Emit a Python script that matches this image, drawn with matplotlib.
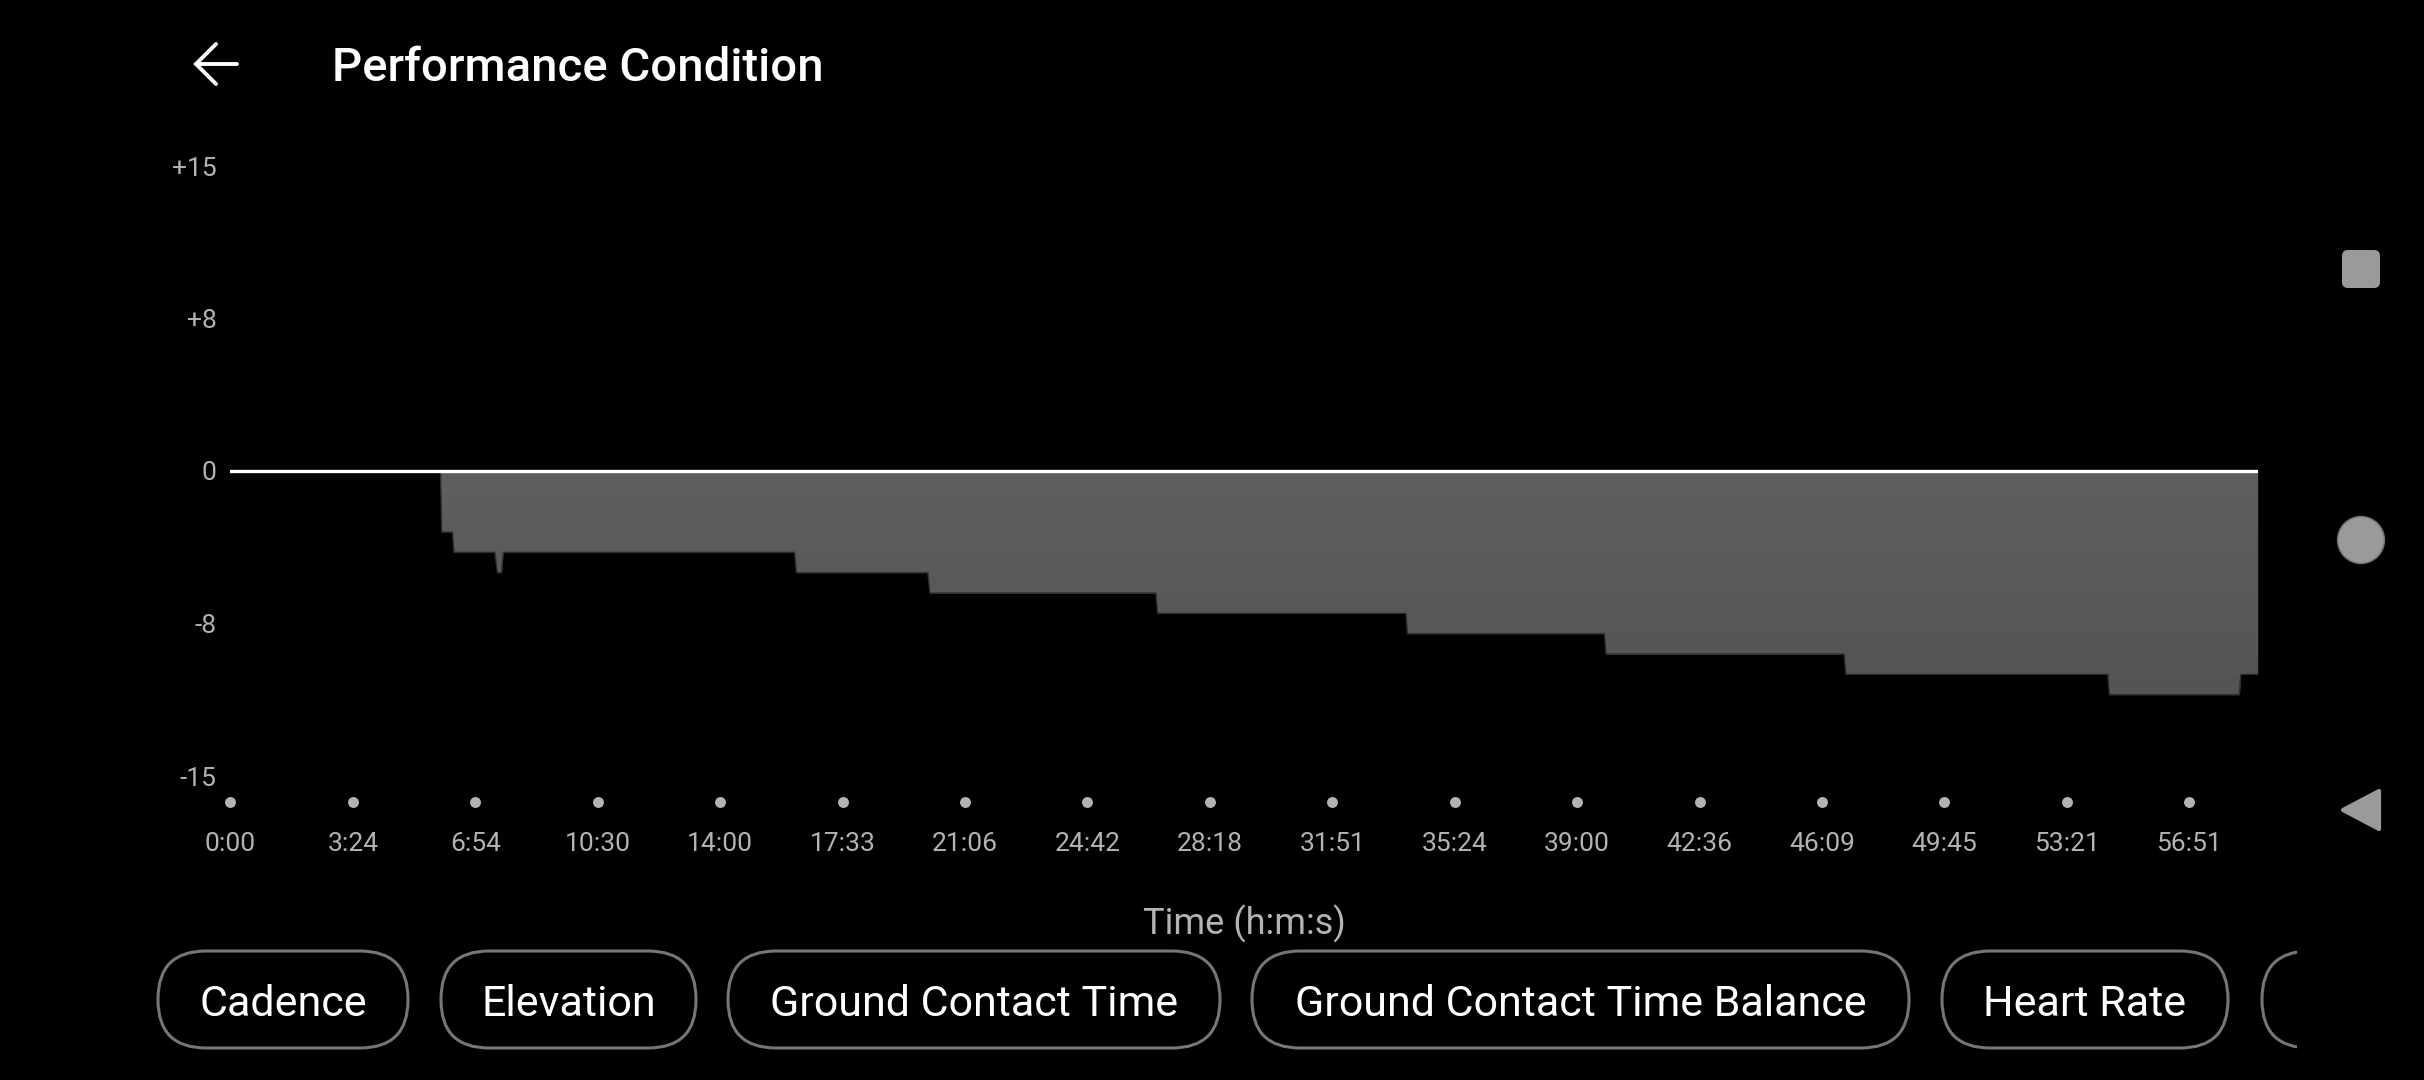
import numpy as np
import matplotlib
matplotlib.use("Agg")
import matplotlib.pyplot as plt
from matplotlib.colors import LinearSegmentedColormap
from matplotlib.patches import FancyBboxPatch, Circle, Polygon, Rectangle

plt.rcParams['font.family'] = ['Roboto', 'DejaVu Sans']

# performance condition over the run (elapsed seconds -> score)
t_sec = [0, 366, 368, 386.5, 389.5, 460.5, 465, 472, 475, 982.5, 985.5,
         1214.5, 1218, 1611.5, 1614.5, 2047, 2049.5, 2392.5, 2395.5,
         2810, 2813, 3269, 3272, 3498, 3500.5, 3530]
condition = [0, 0, -3, -3, -4, -4, -5, -5, -4, -4, -5,
             -5, -6, -6, -7, -7, -8, -8, -9,
             -9, -10, -10, -11, -11, -10, -10]

y_ticks = [-15, -7.5, 0, 7.5, 15]
y_labels = ['-15', '-8', '0', '+8', '+15']
time_labels = ['0:00', '3:24', '6:54', '10:30', '14:00', '17:33', '21:06',
               '24:42', '28:18', '31:51', '35:24', '39:00', '42:36',
               '46:09', '49:45', '53:21', '56:51']
chips = ['Cadence', 'Elevation', 'Ground Contact Time',
         'Ground Contact Time Balance', 'Heart Rate', '']

W, H = 2424, 1080
GREY = '#b3b3b3'
fig = plt.figure(figsize=(W / 100, H / 100), dpi=100, facecolor='black')

# full-screen layer in pixel units for the app chrome
ui = fig.add_axes([0, 0, 1, 1])
ui.set_xlim(0, W)
ui.set_ylim(H, 0)
ui.axis('off')

# back arrow + title
ui.plot([196, 237], [64, 64], color='white', lw=2.8, solid_capstyle='round')
ui.plot([216, 196, 216], [44, 64, 84], color='white', lw=2.8,
        solid_capstyle='round', solid_joinstyle='miter')
ui.text(332, 68, 'Performance Condition', fontsize=34, fontweight='medium',
        color='white', ha='left', va='center')

# chart
x0, x1 = 230.4, 2257.7
y_top, y_bot = 166, 776
ax = fig.add_axes([x0 / W, (H - y_bot) / H, (x1 - x0) / W, (y_bot - y_top) / H])
ax.set_facecolor('black')
for s in ax.spines.values():
    s.set_visible(False)

poly = ax.fill_between(t_sec, condition, 0, color='#5a5a5a', lw=0, zorder=1)
grad = np.linspace(0, 1, 256).reshape(-1, 1)
cmap = LinearSegmentedColormap.from_list('fillgrad', ['#5f5f5f', '#545454'])
im = ax.imshow(grad, extent=[0, t_sec[-1], -11, 0], aspect='auto', cmap=cmap,
               origin='upper', zorder=2)
im.set_clip_path(poly.get_paths()[0], ax.transData)
ax.plot(t_sec, condition, color='#303030', lw=1.0, zorder=3)
ax.axhline(0, color='white', lw=2.4, zorder=4)

ax.set_xlim(0, t_sec[-1])
ax.set_ylim(-15, 15)
ax.set_yticks(y_ticks, y_labels)
ax.tick_params(axis='y', length=0, pad=10, labelsize=19, labelcolor=GREY)

xt = np.linspace(0, 3411, len(time_labels))
ax.set_xticks(xt, time_labels)
ax.tick_params(axis='x', length=0, pad=49, labelsize=19, labelcolor=GREY)
for lab in ax.get_xticklabels():
    lab.set_va('center')
ax.scatter(xt, np.full(len(xt), -0.0426), transform=ax.get_xaxis_transform(),
           s=62, color=GREY, lw=0, clip_on=False)

ax.set_xlabel('Time (h:m:s)', fontsize=26, color=GREY)
ax.xaxis.set_label_coords(0.5, -(924 - y_bot) / (y_bot - y_top))
ax.xaxis.label.set_va('center')

# metric chips along the bottom
chip_left = [158, 441, 728, 1252, 1942, 2262]
chip_right = [408, 696, 1220, 1909, 2228, 2500]
clip = Rectangle((0, 0), 2297, H, transform=ui.transData)
for name, a, b in zip(chips, chip_left, chip_right):
    pill = FancyBboxPatch((a, 951), b - a, 97,
                          boxstyle='round,pad=0,rounding_size=48',
                          fc='none', ec='#767676', lw=2.2)
    ui.add_patch(pill)
    pill.set_clip_path(clip)
    if name:
        ui.text((a + b) / 2, 1004, name, fontsize=31, color='white',
                ha='center', va='center')

# system navigation buttons
NAV = '#9a9a9a'
ui.add_patch(FancyBboxPatch((2342, 250), 38, 38,
                            boxstyle='round,pad=0,rounding_size=6',
                            fc=NAV, ec='none'))
ui.add_patch(Circle((2361, 540), 23.5, fc=NAV, ec='#707070', lw=1))
ui.add_patch(Polygon([(2343, 810), (2379, 791), (2379, 829)], closed=True,
                     fc=NAV, ec=NAV, lw=3, joinstyle='round'))

fig.savefig('out.png', dpi=100, facecolor='black')
